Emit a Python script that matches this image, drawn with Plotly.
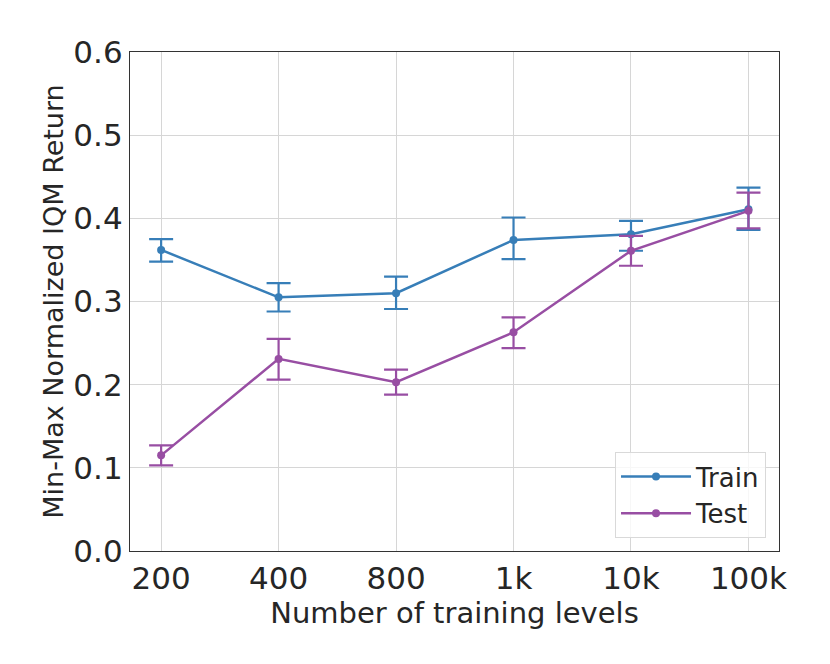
import plotly.graph_objects as go

categories = ["200", "400", "800", "1k", "10k", "100k"]
train_mean = [0.362, 0.305, 0.310, 0.374, 0.381, 0.411]
train_low = [0.348, 0.288, 0.291, 0.351, 0.361, 0.386]
train_high = [0.375, 0.322, 0.330, 0.401, 0.397, 0.437]
test_mean = [0.115, 0.231, 0.203, 0.263, 0.361, 0.409]
test_low = [0.103, 0.206, 0.188, 0.244, 0.343, 0.388]
test_high = [0.127, 0.255, 0.218, 0.281, 0.379, 0.431]

y_ticks = [0.0, 0.1, 0.2, 0.3, 0.4, 0.5, 0.6]
y_tick_labels = ["0.0", "0.1", "0.2", "0.3", "0.4", "0.5", "0.6"]

TRAIN_COLOR = "#377eb8"
TEST_COLOR = "#984ea3"

x_idx = list(range(len(categories)))

fig = go.Figure()


def add_series(name, mean, low, high, color):
    fig.add_trace(go.Scatter(
        x=x_idx, y=mean, name=name, mode="lines+markers",
        line=dict(color=color, width=2.5),
        marker=dict(color=color, size=8),
        error_y=dict(
            type="data", symmetric=False,
            array=[h - m for h, m in zip(high, mean)],
            arrayminus=[m - l for m, l in zip(mean, low)],
            color=color, thickness=2.2, width=12,
        ),
    ))


add_series("Train", train_mean, train_low, train_high, TRAIN_COLOR)
add_series("Test", test_mean, test_low, test_high, TEST_COLOR)

fig.update_layout(
    width=830, height=664,
    margin=dict(l=122, r=59, t=44, b=121),
    paper_bgcolor="white", plot_bgcolor="white",
    font=dict(family="DejaVu Sans", color="#262626"),
    showlegend=True,
    legend=dict(
        x=0.98, y=0.026, xanchor="right", yanchor="bottom",
        bgcolor="rgba(255,255,255,0.8)", bordercolor="#d9d9d9", borderwidth=1,
        font=dict(size=26, color="#262626"),
        itemwidth=70,
    ),
    xaxis=dict(
        range=[-0.265, 5.26],
        tickmode="array", tickvals=x_idx, ticktext=categories,
        tickfont=dict(size=31), ticks="", ticklabelstandoff=0,
        showgrid=True, gridcolor="#d6d6d6", gridwidth=1,
        showline=True, linecolor="#333333", linewidth=1.3, mirror=True,
        zeroline=False,
        title=dict(text="Number of training levels", font=dict(size=29), standoff=0),
    ),
    yaxis=dict(
        range=[0, 0.6],
        tickmode="array", tickvals=y_ticks, ticktext=y_tick_labels,
        tickfont=dict(size=31), ticks="", ticklabelstandoff=0,
        showgrid=True, gridcolor="#d6d6d6", gridwidth=1,
        showline=True, linecolor="#333333", linewidth=1.3, mirror=True,
        zeroline=False,
        title=dict(text="Min-Max Normalized IQM Return", font=dict(size=27), standoff=1),
    ),
)

fig.write_html("out.html")
